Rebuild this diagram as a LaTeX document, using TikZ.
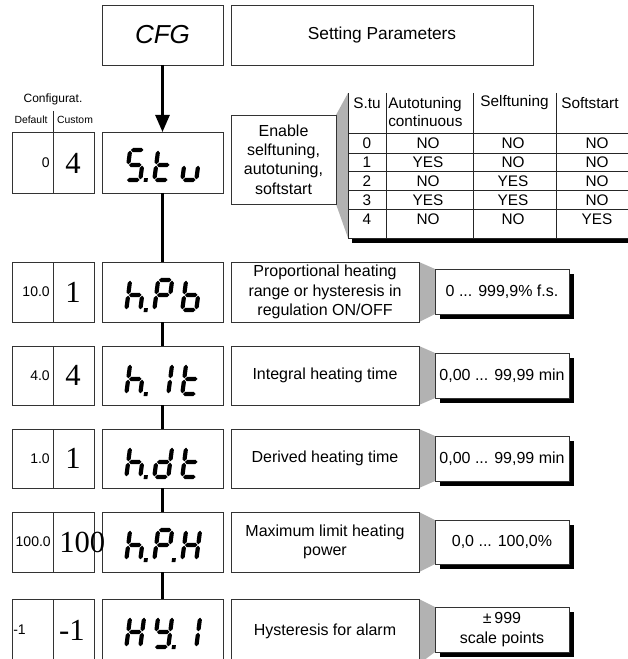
\documentclass[tikz,border=0pt]{standalone}
\usepackage{fontspec}
\newfontfamily\sans{Liberation Sans}
\newfontfamily\serifv{Liberation Serif}
\usetikzlibrary{shadows,backgrounds,arrows.meta}

% seven-segment helpers (local units = px, y downwards)
\newcommand\hs[3]{\fill (#1,#3) -- ++(2.1,-2.1) -- ({#2-2.1},{#3-2.1}) -- (#2,#3) -- ({#2-2.1},{#3+2.1}) -- ({#1+2.1},{#3+2.1}) -- cycle;}
\newcommand\vs[3]{\fill (#1,#2) -- ++(2.1,2.1) -- ({#1+2.1},{#3-2.1}) -- (#1,#3) -- ({#1-2.1},{#3-2.1}) -- ({#1-2.1},{#2+2.1}) -- cycle;}
\newcommand\segA{\hs{2.7}{15.3}{-32}}
\newcommand\segG{\hs{2.7}{15.3}{-17}}
\newcommand\segD{\hs{2.7}{15.3}{-2}}
\newcommand\segF{\vs{2}{-31.3}{-17.7}}
\newcommand\segE{\vs{2}{-16.3}{-2.7}}
\newcommand\segB{\vs{16}{-31.3}{-17.7}}
\newcommand\segC{\vs{16}{-16.3}{-2.7}}
\newcommand\segP{\fill (19.6,-3.8) rectangle (23.4,0);}
\newcommand\sevenseg[3]{\begin{scope}[shift={(#1,#2)},xslant=0.13]#3\end{scope}}
\newcommand\boxat[7][]{\node[bx,minimum width={(#5-#3)*0.75pt},minimum height={(#6-#4)*0.75pt},#1] (#2) at ({(#3+#5)/2},{(#4+#6)/2}) {#7};}

\tikzset{
  bx/.style={draw=black!80, line width=0.7pt, inner sep=0pt, outer sep=0pt, fill=white, align=center},
  desc/.style={font=\sans\fontsize{12}{14.6}\selectfont},
  valbox/.style={bx, desc, drop shadow={shadow xshift=3.5pt, shadow yshift=-3.5pt, fill=black, opacity=1}},
  conn/.style={line width=1.9pt},
  wedge/.style={fill=black!30},
  defv/.style={font=\sans\fontsize{10.5}{12}\selectfont, inner sep=0pt},
  cusv/.style={font=\serifv\fontsize{23}{24}\selectfont, inner sep=0pt},
  tbt/.style={font=\sans\fontsize{11.5}{13.5}\selectfont, inner sep=0pt},
  tline/.style={line width=0.7pt, draw=black!85},
}

\begin{document}
\begin{tikzpicture}[x=0.75pt,y=-0.75pt]
\useasboundingbox (0,0) rectangle (627,659);

% top
\boxat[font=\sans\itshape\fontsize{19.5}{20}\selectfont]{cfg}{102}{5}{223}{65}{CFG}
\boxat[font=\sans\fontsize{13}{15}\selectfont]{setp}{231}{5}{533}{65}{Setting Parameters}

% configuration header
\node[font=\sans\fontsize{9}{10}\selectfont, inner sep=0pt] (cfgt) at (53,99) {Configurat.};
\node[font=\sans\fontsize{7.8}{9}\selectfont, inner sep=0pt] (deft) at (31,120) {Default};
\node[font=\sans\fontsize{7.8}{9}\selectfont, inner sep=0pt] (cust) at (75,120) {Custom};
\coordinate (hdiv) at (53,111);

% row 1
\boxat{dl1}{12}{132}{53}{193}{}
\boxat{cl1}{53}{132}{94}{193}{}
\boxat{d1}{102}{132}{223}{193}{}
\boxat[desc]{en}{231}{115}{336}{204}{Enable\\selftuning,\\autotuning,\\softstart}
\draw[tline] (hdiv) -- (cl1.north west);
\node[defv, anchor=east] (dv1) at (50,163) {0};
\node[cusv] (cv1) at (73,163) {4};
\sevenseg{124}{182}{\segA\segF\segG\segC\segD\segP}
\sevenseg{152}{182}{\segF\segE\segG\segD}
\sevenseg{180}{182}{\segE\segD\segC}

% table
\node[inner sep=0pt, outer sep=0pt, minimum width={(640-348)*0.75pt}, minimum height={(238-93)*0.75pt}] (tbl) at ({(348+640)/2},{(93+238)/2}) {};
\fill (352,238) rectangle (640,242.5);
\draw[tline] (348,93) -- (348,238) -- (640,238);
\foreach \x in {386,473,556} \draw[tline] (\x,93) -- (\x,238);
\foreach \y in {133,153,171,190,209} \draw[tline] (348,\y) -- (640,\y);
\node[tbt] (th1) at (367,103) {S.tu};
\node[tbt, anchor=west, align=left] (th2) at (388,112) {Autotuning\\continuous};
\node[tbt] (th3) at (514.5,103) {Selftuning};
\node[tbt] (th4) at (590,103) {Softstart};
\node[tbt] (r0a) at (367,143) {0};   \node[tbt] (r0b) at (428,143) {NO};  \node[tbt] (r0c) at (513,143) {NO};  \node[tbt] (r0d) at (597,143) {NO};
\node[tbt] (r1a) at (367,162) {1};   \node[tbt] (r1b) at (428,162) {YES}; \node[tbt] (r1c) at (513,162) {NO};  \node[tbt] (r1d) at (597,162) {NO};
\node[tbt] (r2a) at (367,181) {2};   \node[tbt] (r2b) at (428,181) {NO};  \node[tbt] (r2c) at (513,181) {YES}; \node[tbt] (r2d) at (597,181) {NO};
\node[tbt] (r3a) at (367,200) {3};   \node[tbt] (r3b) at (428,200) {YES}; \node[tbt] (r3c) at (513,200) {YES}; \node[tbt] (r3d) at (597,200) {NO};
\node[tbt] (r4a) at (367,219) {4};   \node[tbt] (r4b) at (428,219) {NO};  \node[tbt] (r4c) at (513,219) {NO};  \node[tbt] (r4d) at (597,219) {YES};

% row 2
\boxat{dl2}{12}{262}{53}{322}{}
\boxat{cl2}{53}{262}{94}{322}{}
\boxat{d2}{102}{262}{223}{322}{}
\boxat[desc]{ds2}{231}{262}{419}{322}{Proportional heating\\range or hysteresis in\\regulation ON/OFF}
\boxat[valbox]{v2}{435}{269}{569}{314}{0 ... 999,9\% f.s.}
\node[defv, anchor=east] (dv2) at (50,292) {10.0};
\node[cusv] (cv2) at (73,292) {1};
\sevenseg{124}{312}{\segF\segE\segG\segC\segP}
\sevenseg{152}{312}{\segA\segB\segF\segG\segE}
\sevenseg{180}{312}{\segF\segE\segG\segC\segD}

% row 3
\boxat{dl3}{12}{346}{53}{405}{}
\boxat{cl3}{53}{346}{94}{405}{}
\boxat{d3}{102}{346}{223}{405}{}
\boxat[desc]{ds3}{231}{346}{419}{405}{Integral heating time}
\boxat[valbox]{v3}{435}{353}{569}{398}{0,00 ... 99,99 min}
\node[defv, anchor=east] (dv3) at (50,375.5) {4.0};
\node[cusv] (cv3) at (73,375.5) {4};
\sevenseg{124}{396}{\segF\segE\segG\segC\segP}
\sevenseg{152}{396}{\segB\segC}
\sevenseg{180}{396}{\segF\segE\segG\segD}

% row 4
\boxat{dl4}{12}{429}{53}{488}{}
\boxat{cl4}{53}{429}{94}{488}{}
\boxat{d4}{102}{429}{223}{488}{}
\boxat[desc]{ds4}{231}{429}{419}{488}{Derived heating time}
\boxat[valbox]{v4}{435}{436}{569}{481}{0,00 ... 99,99 min}
\node[defv, anchor=east] (dv4) at (50,458.5) {1.0};
\node[cusv] (cv4) at (73,458.5) {1};
\sevenseg{124}{479}{\segF\segE\segG\segC\segP}
\sevenseg{152}{479}{\segB\segC\segG\segE\segD}
\sevenseg{180}{479}{\segF\segE\segG\segD}

% row 5
\boxat{dl5}{12}{512}{53}{572}{}
\boxat{cl5}{53}{512}{94}{572}{}
\boxat{d5}{102}{512}{223}{572}{}
\boxat[desc]{ds5}{231}{512}{419}{572}{Maximum limit heating\\power}
\boxat[valbox]{v5}{435}{520}{569}{564}{0,0 ... 100,0\%}
\node[defv, anchor=east] (dv5) at (51,542) {100.0};
\node[cusv, anchor=west] (cv5) at (59,542) {100};
\sevenseg{124}{562}{\segF\segE\segG\segC\segP}
\sevenseg{152}{562}{\segA\segB\segF\segG\segE\segP}
\sevenseg{180}{562}{\segF\segE\segB\segC\segG}

% row 6
\boxat{dl6}{12}{599}{53}{664}{}
\boxat{cl6}{53}{599}{94}{664}{}
\boxat{d6}{102}{599}{223}{664}{}
\boxat[desc]{ds6}{231}{599}{419}{664}{Hysteresis for alarm}
\boxat[valbox]{v6}{435}{607}{569}{652}{±\,999\\scale points}
\node[defv, anchor=west] (dv6) at (13,630) {-1};
\node[cusv] (cv6) at (72,630) {-1};
\sevenseg{124}{649}{\segF\segE\segB\segC\segG}
\sevenseg{152}{649}{\segF\segB\segG\segC\segD\segP}
\sevenseg{180}{649}{\segB\segC}

% connectors
\draw[conn, -{Triangle[length=12.75pt, width=10.5pt]}] (cfg) -- (d1);
\draw[conn] (d1) -- (d2);
\draw[conn] (d2) -- (d3);
\draw[conn] (d3) -- (d4);
\draw[conn] (d4) -- (d5);
\draw[conn] (d5) -- (d6);

% callout wedges
\begin{scope}[on background layer]
\fill[wedge] (en.north east) -- (tbl.north west) -- (tbl.south west) -- (en.south east) -- cycle;
\fill[wedge] (ds2.north east) -- (v2.north west) -- (v2.south west) -- (ds2.south east) -- cycle;
\fill[wedge] (ds3.north east) -- (v3.north west) -- (v3.south west) -- (ds3.south east) -- cycle;
\fill[wedge] (ds4.north east) -- (v4.north west) -- (v4.south west) -- (ds4.south east) -- cycle;
\fill[wedge] (ds5.north east) -- (v5.north west) -- (v5.south west) -- (ds5.south east) -- cycle;
\fill[wedge] (ds6.north east) -- (v6.north west) -- (v6.south west) -- (ds6.south east) -- cycle;
\end{scope}
\end{tikzpicture}
\end{document}
